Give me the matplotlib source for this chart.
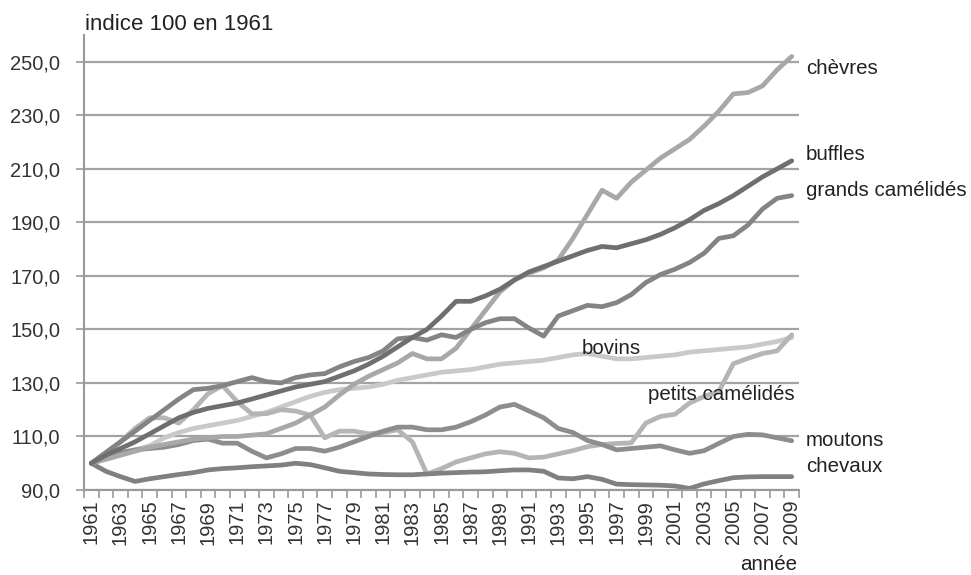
import matplotlib
matplotlib.use("Agg")
import matplotlib.pyplot as plt
import numpy as np

plt.rcParams['font.family'] = ['Liberation Sans', 'DejaVu Sans']

years = list(range(1961, 2010))

chevres = [100, 101.5, 103, 104.5, 106, 107, 108, 109, 109.5, 110, 110, 110.5, 111, 113, 115, 118, 121,
           125.5, 129.5, 132.5, 135, 137.5, 141, 139, 139, 143, 150, 157, 164, 168.5, 171, 173, 176, 184,
           193, 202, 199, 205, 209.5, 214, 217.5, 221, 226, 231.5, 238, 238.5, 241, 247, 252]
buffles = [100, 103, 105.5, 108, 111, 114, 117, 119, 120.5, 121.5, 122.5, 124, 125.5, 127, 128.5, 129.5,
           130.5, 132.5, 134.5, 137, 140, 143.5, 147, 150, 155, 160.5, 160.5, 162.5, 165, 168.5, 171.5,
           173.5, 175.5, 177.5, 179.5, 181, 180.5, 182, 183.5, 185.5, 188, 191, 194.5, 197, 200, 203.5,
           207, 210, 213]
grands_cam = [100, 104, 108, 112, 116, 120, 124, 127.5, 128, 129, 130.5, 132, 130.5, 130, 132, 133, 133.5,
              136, 138, 139.5, 142, 146.5, 147, 146, 148, 147, 150, 152.5, 154, 154, 150.5, 147.5, 155,
              157, 159, 158.5, 160, 163, 167.5, 170.5, 172.5, 175, 178.5, 184, 185, 189, 195, 199, 200]
bovins = [100, 101.5, 103, 105, 106.5, 109.5, 111.5, 113, 114, 115, 116, 117.5, 119, 121, 123, 125, 126.5,
          127.5, 128, 128.5, 129.5, 131, 132, 133, 134, 134.5, 135, 136, 137, 137.5, 138, 138.5, 139.5,
          140.5, 141, 140, 139, 139, 139.5, 140, 140.5, 141.5, 142, 142.5, 143, 143.5, 144.5, 145.5, 147]
petits_cam = [100, 104, 108, 113, 117, 117, 115, 120, 126, 129, 123, 118.5, 118.5, 120, 119.5, 118, 109.5,
              112, 112, 111, 111.5, 112.5, 108, 96, 98, 100.5, 102, 103.5, 104.3, 103.7, 102, 102.3, 103.5,
              104.7, 106.2, 107, 107.4, 107.6, 115, 117.5, 118.3, 122.5, 125, 126.8, 137.2, 139.2, 141, 142, 148]
moutons = [100, 102.5, 104, 105, 105.5, 106, 107, 108.5, 109, 107.5, 107.5, 104.5, 102, 103.5, 105.5, 105.5,
           104.5, 106, 108, 110, 112, 113.5, 113.5, 112.5, 112.5, 113.5, 115.5, 118, 121, 122, 119.5, 117,
           113, 111.5, 108.5, 107, 105, 105.5, 106, 106.5, 105, 103.7, 104.7, 107.4, 110, 110.8, 110.6, 109.5, 108.4]
chevaux = [100, 97, 95, 93.2, 94.2, 95, 95.8, 96.5, 97.5, 98, 98.3, 98.7, 99, 99.3, 100, 99.5, 98.3, 97, 96.5,
           96, 95.8, 95.7, 95.7, 96, 96.3, 96.5, 96.7, 96.8, 97.2, 97.5, 97.5, 97, 94.5, 94.2, 95, 94, 92.2, 92,
           91.9, 91.8, 91.5, 90.6, 92.3, 93.5, 94.6, 94.9, 95, 95, 95]

series = [
    ("bovins", bovins, "#c9c9c9"),
    ("petits camélidés", petits_cam, "#b5b5b5"),
    ("chevaux", chevaux, "#808080"),
    ("moutons", moutons, "#8d8d8d"),
    ("chèvres", chevres, "#a8a8a8"),
    ("grands camélidés", grands_cam, "#848484"),
    ("buffles", buffles, "#6f6f6f"),
]

fig = plt.figure(figsize=(9.71, 5.75), dpi=100)
ax = fig.add_axes([0.0865, 0.1478, 0.7364, 0.7913])

ax.set_ylim(90, 260)
ax.set_xlim(1960.5, 2009.5)
yticks = np.arange(90, 251, 20)
ax.set_yticks(yticks)
ax.set_yticklabels([f"{v:.1f}".replace(".", ",") for v in yticks], fontsize=14.5, color="#333333")
ax.yaxis.grid(True, color="#a3a3a3", linewidth=1.6)
ax.set_axisbelow(True)
ax.tick_params(axis="y", length=6, width=1.2, color="#999999", pad=11)

ax.set_xticks(years[::2])
ax.set_xticklabels([str(y) for y in years[::2]], rotation=90, fontsize=14.5, color="#333333")
ax.set_xticks(np.arange(1960.5, 2010, 1), minor=True)
ax.tick_params(axis="x", which="major", length=0, pad=7)
ax.tick_params(axis="x", which="minor", length=6, width=1.2, color="#999999")

for s in ["top", "right"]:
    ax.spines[s].set_visible(False)
for s in ["left", "bottom"]:
    ax.spines[s].set_color("#999999")
    ax.spines[s].set_linewidth(1.5)

for name, vals, col in series:
    ax.plot(years, vals, color=col, linewidth=3.4, solid_joinstyle="round", solid_capstyle="round")

fs = 14.8
tc = "#222222"
fig.text(806 / 971, 1 - 68 / 575, "chèvres", fontsize=fs, color=tc, va="center")
fig.text(806 / 971, 1 - 155 / 575, "buffles", fontsize=fs, color=tc, va="center")
fig.text(806 / 971, 1 - 190 / 575, "grands camélidés", fontsize=fs, color=tc, va="center")
fig.text(806 / 971, 1 - 440 / 575, "moutons", fontsize=fs, color=tc, va="center")
fig.text(806 / 971, 1 - 466 / 575, "chevaux", fontsize=fs, color=tc, va="center")
fig.text(582 / 971, 1 - 349 / 575, "bovins", fontsize=fs, color=tc, va="center")
fig.text(648 / 971, 1 - 395 / 575, "petits camélidés", fontsize=fs, color=tc, va="center")
fig.text(85 / 971, 1 - 24 / 575, "indice 100 en 1961", fontsize=16, color=tc, va="center")
fig.text(797 / 971, 1 - 565 / 575, "année", fontsize=fs, color=tc, va="center", ha="right")

fig.savefig("out.png", dpi=100)
